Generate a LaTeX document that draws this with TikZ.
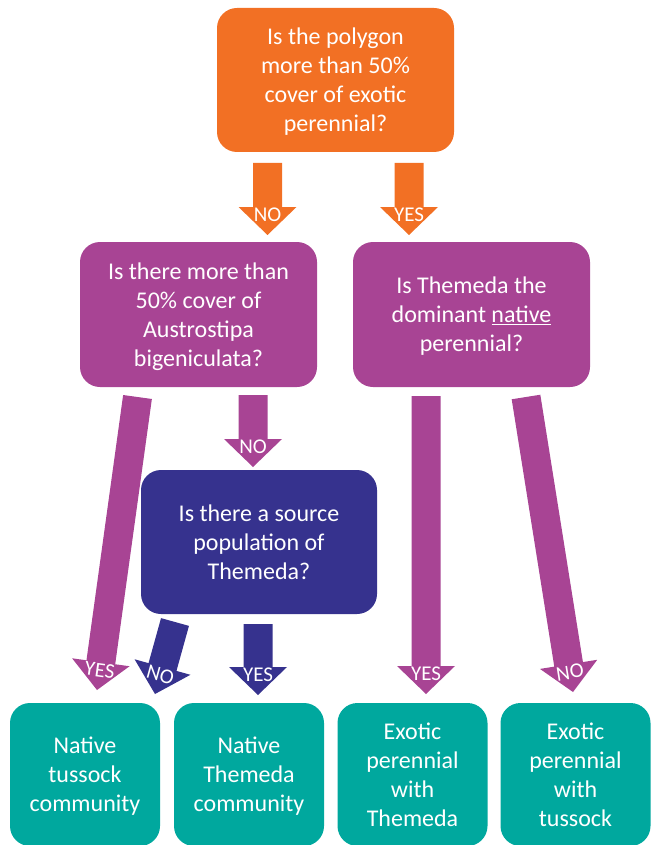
\documentclass[tikz,border=0pt]{standalone}
\usepackage{fontspec}
\setmainfont{Carlito}
\usetikzlibrary{calc}
\definecolor{cOrange}{RGB}{242,112,36}
\definecolor{cPurple}{RGB}{168,68,148}
\definecolor{cBlue}{RGB}{54,50,142}
\definecolor{cTeal}{RGB}{0,168,158}
\tikzset{
  qbox/.style={rounded corners=20pt, text=white, align=center, inner sep=0pt,
    font=\fontsize{24}{29}\selectfont, text depth=-3.5pt},
  bigq/.style={qbox, minimum width=237pt, minimum height=145pt},
  resbox/.style={qbox, fill=cTeal, minimum width=150pt, minimum height=143pt},
  arrowlabel/.style={text=white, inner sep=0pt, font=\fontsize{21}{24}\selectfont}
}
% #1 start, #2 tip, #3 colour, #4 label, #5 label rotation, #6 name
\newcommand\blockarrow[6]{%
  \coordinate (#6hb) at ($(#2)!28pt!(#1)$);
  \fill[#3] ($(#1)!14.5pt!-90:(#2)$) -- ($(#6hb)!14.5pt!90:(#1)$) -- ($(#6hb)!29pt!90:(#1)$)
    -- (#2) -- ($(#6hb)!29pt!-90:(#1)$) -- ($(#6hb)!14.5pt!-90:(#1)$)
    -- ($(#1)!14.5pt!90:(#2)$) -- cycle;
  \node[arrowlabel, rotate=#5] (#6lab) at ($(#2)!20pt!(#1)$) {#4};
}
\begin{document}
\begin{tikzpicture}[x=1pt,y=-1pt]
\useasboundingbox (0,0) rectangle (651,845);
% question boxes
\node[qbox, fill=cOrange, minimum width=237pt, minimum height=144pt] (q1) at (335.5,80)
  {Is the polygon\\more than 50\%\\cover of exotic\\perennial?};
\node[bigq, fill=cPurple] (q2) at (198.5,314.5)
  {Is there more than\\50\% cover of\\Austrostipa\\bigeniculata?};
\node[bigq, fill=cPurple] (q3) at (471.5,314.5)
  {Is Themeda the\\dominant \underline{native}\\perennial?};
\node[qbox, fill=cBlue, minimum width=236pt, minimum height=144pt] (q4) at (259,542)
  {Is there a source\\population of\\Themeda?};
% result boxes
\node[resbox] (r1) at (85,774.5) {Native\\tussock\\community};
\node[resbox] (r2) at (249,774.5) {Native\\Themeda\\community};
\node[resbox] (r3) at (412.5,774.5) {Exotic\\perennial\\with\\Themeda};
\node[resbox] (r4) at (575.5,774.5) {Exotic\\perennial\\with\\tussock};
% arrow end points
\coordinate (a1s) at (267.5,163); \coordinate (a1e) at (267.5,235);
\coordinate (a2s) at (409,163);   \coordinate (a2e) at (409,235);
\coordinate (a3s) at (137.5,397); \coordinate (a3e) at (97,690);
\coordinate (a4s) at (253,395);   \coordinate (a4e) at (253,467);
\coordinate (a5s) at (175,622);   \coordinate (a5e) at (155,694);
\coordinate (a6s) at (258,624);   \coordinate (a6e) at (258,695);
\coordinate (a7s) at (426,396);   \coordinate (a7e) at (426,694);
\coordinate (a8s) at (526,397);   \coordinate (a8e) at (573,692);
\blockarrow{a1s}{a1e}{cOrange}{NO}{0}{a1}
\blockarrow{a2s}{a2e}{cOrange}{YES}{0}{a2}
\blockarrow{a3s}{a3e}{cPurple}{YES}{-7.9}{a3}
\blockarrow{a4s}{a4e}{cPurple}{NO}{0}{a4}
\blockarrow{a5s}{a5e}{cBlue}{NO}{-15.5}{a5}
\blockarrow{a6s}{a6e}{cBlue}{YES}{0}{a6}
\blockarrow{a7s}{a7e}{cPurple}{YES}{0}{a7}
\blockarrow{a8s}{a8e}{cPurple}{NO}{9}{a8}
\end{tikzpicture}
\end{document}
